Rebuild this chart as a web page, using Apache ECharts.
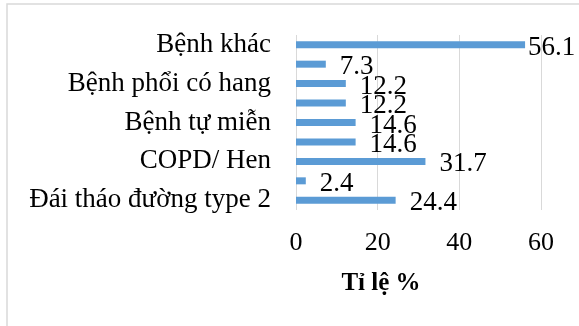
<!DOCTYPE html>
<html>
<head>
<meta charset="utf-8">
<script src="https://cdn.jsdelivr.net/npm/echarts@6/dist/echarts.min.js"></script>
<style>
  html, body { margin: 0; padding: 0; background: #fff; }
  #chart { width: 579px; height: 326px; }
</style>
</head>
<body>
<div id="chart"></div>
<script>
// categories top to bottom (only every other label is shown in the original)
const categories = [
  "Bệnh khác", "", "Bệnh phổi có hang", "", "Bệnh tự miễn",
  "", "COPD/ Hen", "", "Đái tháo đường type 2"
];
const values = [56.1, 7.3, 12.2, 12.2, 14.6, 14.6, 31.7, 2.4, 24.4];
const xTicks = [0, 20, 40, 60];
const xTitle = "Tỉ lệ %";

const chart = echarts.init(document.getElementById("chart"));
const font = "'Liberation Serif', 'Times New Roman', serif";

// the longest bar's label sits closer to the bar so it fits inside the frame
const barData = values.map((v, i) =>
  i === 0 ? { value: v, label: { distance: 3 } } : v
);

const option = {
  animation: false,
  textStyle: { fontFamily: font },
  graphic: [
    {
      type: "rect",
      shape: { x: 7, y: 4, width: 700, height: 400 },
      style: { fill: "none", stroke: "#d9d9d9", lineWidth: 1.5 },
      z: -1,
    },
  ],
  title: {
    text: xTitle,
    left: 376,
    top: 266,
    textAlign: "center",
    textStyle: { fontFamily: font, fontSize: 25, fontWeight: "bold", color: "#000" },
  },
  grid: { left: 296, right: 38, top: 35, bottom: 116 },
  xAxis: {
    type: "value",
    min: xTicks[0],
    max: xTicks[xTicks.length - 1],
    interval: 20,
    axisLine: { show: false },
    axisTick: { show: false },
    axisLabel: { color: "#000", fontSize: 26, fontFamily: font, margin: 20 },
    splitLine: { show: true, lineStyle: { color: "#d9d9d9", width: 1 } },
  },
  yAxis: {
    type: "category",
    inverse: true,
    data: categories,
    axisLine: { show: false },
    axisTick: { show: false },
    axisLabel: { color: "#000", fontSize: 27, fontFamily: font, margin: 25, interval: 0 },
  },
  series: [
    {
      type: "bar",
      data: barData,
      barWidth: 7,
      itemStyle: { color: "#5b9bd5" },
      label: {
        show: true,
        position: "right",
        distance: 14,
        offset: [0, 3],
        color: "#000",
        fontSize: 27,
        fontFamily: font,
      },
    },
  ],
};
chart.setOption(option);
</script>
</body>
</html>
